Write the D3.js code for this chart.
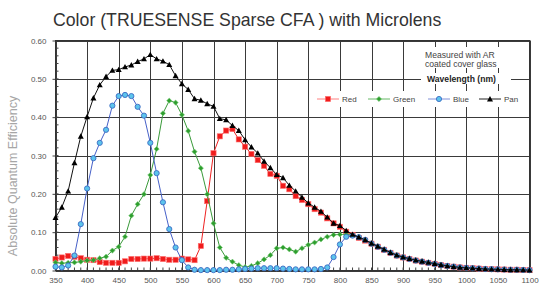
<!DOCTYPE html>
<html>
<head>
<meta charset="utf-8">
<script src="https://cdn.jsdelivr.net/npm/d3@7"></script>
<style>
  body { margin: 0; background: #fff; }
  svg { display: block; font-family: "Liberation Sans", Arial, sans-serif; }
</style>
</head>
<body>
<div id="chart-area"></div>
<script>
// wavelengths (nm), one point every 10 nm
var wavelengths = [350,360,370,380,390,400,410,420,430,440,450,460,470,480,490,500,510,520,530,540,
  550,560,570,580,590,600,610,620,630,640,650,660,670,680,690,700,710,720,730,740,
  750,760,770,780,790,800,810,820,830,840,850,860,870,880,890,900,910,920,930,940,
  950,960,970,980,990,1000,1010,1020,1030,1040,1050,1060,1070,1080,1090,1100];

var red = [0.030,0.034,0.038,0.036,0.032,0.028,0.027,0.022,0.020,0.020,0.020,0.024,0.030,0.030,0.031,0.031,0.032,0.030,0.028,0.028,
  0.031,0.029,0.027,0.064,0.181,0.306,0.350,0.365,0.369,0.342,0.323,0.304,0.288,0.273,0.252,0.247,0.221,0.212,0.194,0.184,
  0.173,0.160,0.151,0.136,0.123,0.114,0.101,0.093,0.085,0.078,0.070,0.062,0.054,0.046,0.039,0.034,0.030,0.026,0.023,0.020,
  0.017,0.014,0.012,0.010,0.008,0.007,0.006,0.005,0.004,0.0035,0.003,0.0025,0.002,0.002,0.0015,0.001];

var green = [0.021,0.019,0.020,0.021,0.023,0.026,0.027,0.032,0.036,0.052,0.062,0.088,0.143,0.173,0.199,0.249,0.317,0.410,0.443,0.438,
  0.406,0.364,0.310,0.267,0.199,0.123,0.060,0.033,0.023,0.014,0.009,0.012,0.019,0.029,0.040,0.058,0.060,0.055,0.049,0.058,
  0.067,0.073,0.081,0.088,0.093,0.094,0.094,0.093,0.087,0.080,0.071,0.063,0.055,0.047,0.040,0.035,0.031,0.027,0.024,0.021,
  0.018,0.015,0.012,0.010,0.008,0.007,0.006,0.005,0.004,0.0035,0.003,0.0025,0.002,0.002,0.0015,0.001];

var blue = [0.010,0.008,0.013,0.039,0.121,0.214,0.293,0.333,0.367,0.430,0.455,0.458,0.455,0.427,0.404,0.333,0.254,0.178,0.108,0.060,
  0.027,0.008,0.002,0.001,0.001,0.001,0.001,0.002,0.002,0.003,0.004,0.005,0.006,0.006,0.006,0.006,0.005,0.004,0.003,0.003,
  0.003,0.003,0.004,0.008,0.035,0.068,0.088,0.091,0.087,0.080,0.070,0.062,0.054,0.046,0.039,0.034,0.030,0.026,0.023,0.020,
  0.017,0.014,0.012,0.010,0.008,0.007,0.006,0.005,0.004,0.0035,0.003,0.0025,0.002,0.002,0.0015,0.001];

var pan = [0.138,0.165,0.207,0.281,0.350,0.401,0.450,0.484,0.506,0.522,0.524,0.531,0.536,0.545,0.552,0.563,0.552,0.546,0.537,0.508,
  0.487,0.472,0.448,0.444,0.435,0.428,0.396,0.393,0.378,0.365,0.341,0.322,0.306,0.285,0.268,0.250,0.242,0.222,0.207,0.191,
  0.176,0.165,0.154,0.139,0.123,0.117,0.104,0.094,0.087,0.080,0.071,0.063,0.055,0.047,0.040,0.035,0.031,0.027,0.024,0.021,
  0.018,0.015,0.012,0.010,0.008,0.007,0.006,0.005,0.004,0.0035,0.003,0.0025,0.002,0.002,0.0015,0.001];

var seriesNames = ["Red","Green","Blue","Pan"];
var xTicks = [350,400,450,500,550,600,650,700,750,800,850,900,950,1000,1050,1100];
var yTicks = [0,0.1,0.2,0.3,0.4,0.5,0.6];

var width = 539, height = 285;
var pLeft = 55.5, pRight = 529.5, pTop = 40.5, pBottom = 270.5;

var svg = d3.select("#chart-area").append("svg")
  .attr("width", width).attr("height", height);

var x = d3.scaleLinear().domain([350,1100]).range([pLeft,pRight]);
var y = d3.scaleLinear().domain([0,0.6]).range([pBottom,pTop]);

// title
svg.append("text").attr("x", 53).attr("y", 26)
  .style("font-size","17.7px").style("fill","#333")
  .text("Color (TRUESENSE Sparse CFA ) with Microlens");

// y label
svg.append("text")
  .attr("transform","translate(17,176) rotate(-90)")
  .attr("text-anchor","middle")
  .style("font-size","12.5px").style("fill","#a6a6a6")
  .text("Absolute Quantum Efficiency");

// grid
var grid = svg.append("g");
grid.selectAll("line.v").data(xTicks).enter().append("line")
  .attr("x1",d=>Math.round(x(d))+0.5).attr("x2",d=>Math.round(x(d))+0.5)
  .attr("y1",pTop).attr("y2",pBottom)
  .attr("stroke","#3a3a3a").attr("stroke-width",1);
grid.selectAll("line.h").data(yTicks).enter().append("line")
  .attr("y1",d=>Math.round(y(d))+0.5).attr("y2",d=>Math.round(y(d))+0.5)
  .attr("x1",pLeft).attr("x2",pRight)
  .attr("stroke","#3a3a3a").attr("stroke-width",1);

// axes (minor ticks inside, labels outside)
var yAxis = d3.axisLeft(y).tickValues(yTicks).tickFormat(d3.format(".2f")).tickSize(3).tickPadding(6);
var yg = svg.append("g").attr("transform","translate("+pLeft+",0)").call(yAxis);
yg.select(".domain").remove();
yg.selectAll("text").style("font-size","8px").style("fill","#555").style("font-family","Liberation Sans, Arial");
yg.selectAll(".tick line").attr("stroke","#444");
var yMinor = d3.range(0,0.601,0.02);
svg.append("g").selectAll("line").data(yMinor).enter().append("line")
  .attr("x1",pLeft).attr("x2",pLeft+3)
  .attr("y1",d=>y(d)).attr("y2",d=>y(d)).attr("stroke","#444");

var xAxis = d3.axisBottom(x).tickValues(xTicks).tickFormat(d3.format("d")).tickSize(0).tickPadding(7);
var xg = svg.append("g").attr("transform","translate(0,"+pBottom+")").call(xAxis);
xg.select(".domain").remove();
xg.selectAll("text").style("font-size","8px").style("fill","#555").style("font-family","Liberation Sans, Arial");
svg.append("g").selectAll("line").data(wavelengths).enter().append("line")
  .attr("x1",d=>x(d)).attr("x2",d=>x(d))
  .attr("y1",pBottom).attr("y2",pBottom-3).attr("stroke","#444");

// frame
svg.append("rect").attr("x",pLeft).attr("y",pTop)
  .attr("width",pRight-pLeft).attr("height",pBottom-pTop)
  .attr("fill","none").attr("stroke","#333");

// annotation boxes over grid
svg.append("rect").attr("x",421).attr("y",47).attr("width",90).attr("height",21).attr("fill","#fff");
svg.append("text").attr("x",425).attr("y",57.5).style("font-size","8.6px").style("fill","#444").text("Measured with AR");
svg.append("text").attr("x",425).attr("y",66.5).style("font-size","8.6px").style("fill","#444").text("coated cover glass");
svg.append("rect").attr("x",421).attr("y",73).attr("width",90).attr("height",11).attr("fill","#fff");
svg.append("text").attr("x",427).attr("y",82).style("font-size","8.6px").style("font-weight","bold").style("fill","#222").text("Wavelength (nm)");

// series
var colors = {Red:"#ee2222", Green:"#3a9a3a", Blue:"#4660c8", Pan:"#111"};
var seriesData = {Red:red, Green:green, Blue:blue, Pan:pan};
var line = d3.line().x((d,i)=>x(wavelengths[i])).y(d=>y(d));

function marker(g, name, cx, cy) {
  if (name=="Red") {
    g.append("rect").attr("x",cx-2.6).attr("y",cy-2.6).attr("width",5.2).attr("height",5.2)
      .attr("fill","#f01c1c").attr("stroke","#ff7070").attr("stroke-width",0.6);
  } else if (name=="Green") {
    g.append("path").attr("d","M"+cx+","+(cy-2.6)+"L"+(cx+2.6)+","+cy+"L"+cx+","+(cy+2.6)+"L"+(cx-2.6)+","+cy+"Z")
      .attr("fill","#2e9e2e").attr("stroke","#7ccf7c").attr("stroke-width",0.6);
  } else if (name=="Blue") {
    g.append("circle").attr("cx",cx).attr("cy",cy).attr("r",2.6)
      .attr("fill","#5cc4ec").attr("stroke","#3c6cc4").attr("stroke-width",0.9);
  } else {
    g.append("path").attr("d","M"+cx+","+(cy-3)+"L"+(cx+3)+","+(cy+2.4)+"L"+(cx-3)+","+(cy+2.4)+"Z")
      .attr("fill","#000");
  }
}

seriesNames.forEach(function(name){
  var vals = seriesData[name];
  var g = svg.append("g");
  g.append("path").datum(vals).attr("d",line)
    .attr("fill","none").attr("stroke",colors[name]).attr("stroke-width",1);
  vals.forEach(function(v,i){ marker(g, name, x(wavelengths[i]), y(v)); });
});

// legend
svg.append("rect").attr("x",312).attr("y",91).attr("width",208).attr("height",16).attr("fill","#fff");
var legendX = [317,368,428,479];
var lineColors = {Red:"#ff8080", Green:"#66b866", Blue:"#8090d8", Pan:"#222"};
seriesNames.forEach(function(name,i){
  var lg = svg.append("g");
  lg.append("line").attr("x1",legendX[i]).attr("x2",legendX[i]+22).attr("y1",99).attr("y2",99)
    .attr("stroke",lineColors[name]).attr("stroke-width",1);
  marker(lg, name, legendX[i]+11, 99);
  lg.append("text").attr("x",legendX[i]+25).attr("y",102)
    .style("font-size","8px").style("fill","#444").text(name);
});
</script>
</body>
</html>
